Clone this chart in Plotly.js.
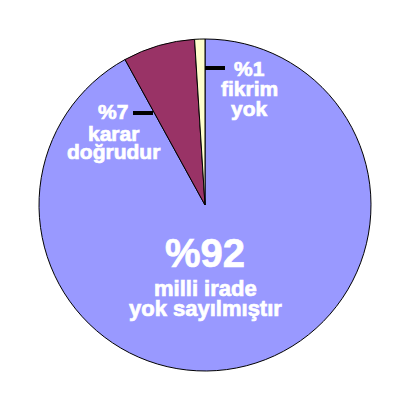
<!DOCTYPE html>
<html>
<head>
<meta charset="utf-8">
<script src="https://cdn.plot.ly/plotly-3.0.1.min.js"></script>
<style>
html,body{margin:0;padding:0;background:#fff;}
#chart{width:409px;height:409px;}
#chart .annotation-text{stroke:#FFFFFF;stroke-width:0.7px;paint-order:stroke;}
</style>
</head>
<body>
<div id="chart"></div>
<script>
// Data
const categories = ["milli irade yok sayılmıştır", "karar doğrudur", "fikrim yok"];
const values = [92, 7, 1];
const colors = ["#9999FF", "#993366", "#FFFFCC"];
const percentLabels = ["%92", "%7", "%1"];
const labelLines = [["milli irade", "yok sayılmıştır"], ["karar", "doğrudur"], ["fikrim", "yok"]];

const W = 409, H = 409;
const px = x => x / W;
const py = y => 1 - y / H;
const FONT = "Liberation Sans, Arial, sans-serif";

// label block anchor positions (pixels) per slice
const blocks = [
  {x: 205, y: 253, big: 40, small: 22, gap: 20, first: 35},
  {x: 113, y: 112, big: 21, small: 21, gap: 19, first: 21},
  {x: 249, y: 68, big: 21, small: 21, gap: 20, first: 21}
];

const annotations = [];
blocks.forEach((b, i) => {
  annotations.push({x: px(b.x), y: py(b.y), xref: "paper", yref: "paper", xanchor: "center", yanchor: "middle",
    showarrow: false, text: "<b>" + percentLabels[i] + "</b>", font: {family: FONT, size: b.big, color: "#FFFFFF"}});
  labelLines[i].forEach((t, j) => {
    annotations.push({x: px(b.x), y: py(b.y + b.first + j * b.gap), xref: "paper", yref: "paper", xanchor: "center", yanchor: "middle",
      showarrow: false, text: "<b>" + t + "</b>", font: {family: FONT, size: b.small, color: "#FFFFFF"}});
  });
});

const shapes = [
  {type: "line", xref: "paper", yref: "paper", x0: px(205), x1: px(225), y0: py(68), y1: py(68), line: {color: "#000", width: 4}},
  {type: "line", xref: "paper", yref: "paper", x0: px(133), x1: px(153), y0: py(113), y1: py(113), line: {color: "#000", width: 4}}
];

const trace = {
  type: "pie",
  labels: categories,
  values: values,
  sort: false,
  direction: "clockwise",
  rotation: 0,
  marker: {colors: colors, line: {color: "#000000", width: 1}},
  textinfo: "none",
  hoverinfo: "none",
  domain: {x: [px(39), px(371)], y: [py(371), py(39)]}
};

Plotly.newPlot("chart", [trace], {
  width: W, height: H,
  margin: {l: 0, r: 0, t: 0, b: 0},
  paper_bgcolor: "#FFFFFF",
  showlegend: false,
  annotations: annotations,
  shapes: shapes
}, {staticPlot: true});
</script>
</body>
</html>
